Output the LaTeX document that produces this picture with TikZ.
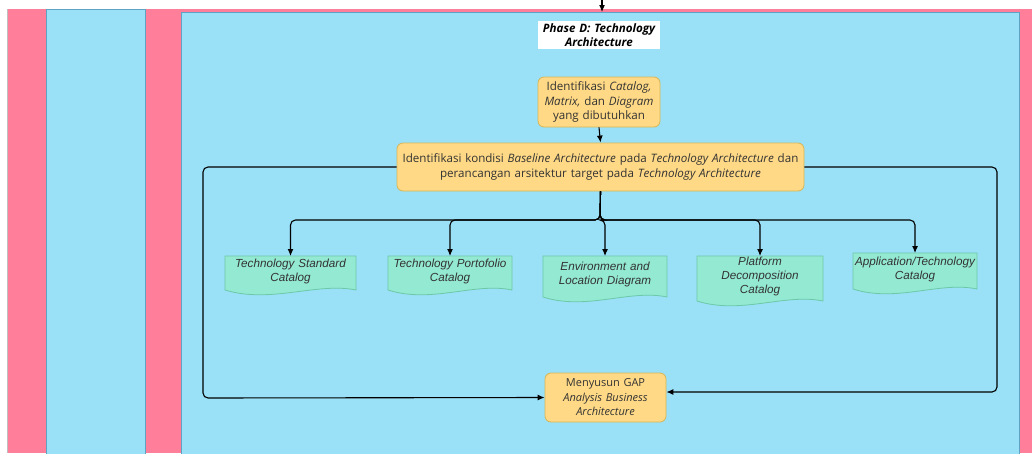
\documentclass[tikz,border=0pt]{standalone}
\usepackage{fontspec}
\setmainfont{Open Sans}
\newfontfamily\docfont{Liberation Sans}
\usetikzlibrary{arrows.meta,calc}

\definecolor{lanepink}{HTML}{FF7F9B}
\definecolor{laneblue}{HTML}{9AE0F7}
\definecolor{laneedge}{HTML}{5FA3C4}
\definecolor{boxfill}{HTML}{FFD986}
\definecolor{boxedge}{HTML}{D6B656}
\definecolor{docfill}{HTML}{93E9D1}
\definecolor{docedge}{HTML}{6CC9A8}
\definecolor{ink}{HTML}{333333}

\tikzset{
  stepbox/.style={draw=boxedge, fill=boxfill, rounded corners=6pt, line width=0.8pt,
    align=center, text=ink, inner sep=1pt,
    font=\fontsize{11.6}{14.5}\selectfont},
  titlebox/.style={fill=white, align=center, text=black, inner sep=0pt,
    font=\fontsize{11.6}{14}\selectfont\bfseries\itshape},
  docbody/.style={draw=docedge, fill=docfill, line width=0.8pt},
  doctext/.style={align=center, text=ink, inner sep=0pt,
    font=\docfont\itshape\fontsize{11.7}{14}\selectfont},
  conn/.style={draw=black, line width=1.1pt, rounded corners=5pt,
    -{Latex[length=7pt,width=6pt]}},
}

% document shape: name, x0, y0, x1, y-bottom of the sides, text
\newcommand\wavedoc[6]{%
  \path[docbody] (#2,#3) -- (#4,#3) -- (#4,#5)
    .. controls ({#2+0.7*(#4-#2)},{#5-8}) and ({#2+0.35*(#4-#2)},{#5+14}) .. (#2,#5) -- cycle;
  \node[doctext, text width={#4-#2}, minimum height={#5-#3-4}, anchor=north]
    (#1) at ({(#2+#4)/2},#3) {#6};
}

\begin{document}
\begin{tikzpicture}[x=1pt,y=-1pt]
\useasboundingbox (0,0) rectangle (1032,453);
\fill[white] (0,0) rectangle (1032,453);

% swimlanes
\fill[lanepink] (8,9) rectangle (1032,453);
\draw[black!25, line width=0.6pt] (7.5,9) -- (7.5,453);
\filldraw[fill=laneblue, draw=laneedge, line width=0.6pt] (46,9) rectangle (145,454);
\filldraw[fill=laneblue, draw=laneedge, line width=0.6pt] (181,12) rectangle (1019,454);

% incoming arrow from the phase above
\coordinate (intop) at (602,-2);
\coordinate (inend) at (602,12);
\draw[conn] (intop) -- (inend);

% phase title
\node[titlebox, text width=122pt, minimum height=28pt] (title) at (599,35)
  {Phase D: Technology\\Architecture};

% process steps
\node[stepbox, text width=120pt, minimum height=50pt] (b1) at (599,102)
  {Identifikasi \textit{Catalog,}\\\textit{Matrix,} dan \textit{Diagram}\\yang dibutuhkan};
\node[stepbox, text width=405pt, minimum height=48pt] (b2) at (600.5,167)
  {Identifikasi kondisi \textit{Baseline Architecture} pada \textit{Technology Architecture} dan\\
   perancangan arsitektur target pada \textit{Technology Architecture}};
\node[stepbox, text width=119pt, minimum height=49pt,
  font=\fontsize{11}{14.5}\selectfont] (b3) at (605.5,397.5)
  {Menyusun GAP\\\textit{Analysis Business}\\\textit{Architecture}};

% catalogs and diagrams
\wavedoc{d1}{225}{256}{356}{290}{Technology Standard\\Catalog}
\wavedoc{d2}{388}{256}{512}{290}{Technology Portofolio\\Catalog}
\wavedoc{d3}{543}{256}{667}{297}{Environment and\\Location Diagram}
\wavedoc{d4}{697}{256}{823}{301}{Platform\\Decomposition\\Catalog}
\wavedoc{d5}{853}{253}{977}{289}{Application/Technology\\Catalog}

% connectors
\draw[conn] (b1.south) -- (b2.north);
\coordinate (split) at (600,220);
\foreach \d in {d1,d2,d3,d4,d5}
  \draw[conn] (b2.south) -- (split) -| (\d.north);
\coordinate (lc) at (203,398);
\draw[conn] (b2.west) -| (lc) -- (b3.west);
\coordinate (rc) at (997,392);
\draw[conn] (b2.east) -| (rc) -- ($(b3.east)+(0,-5.5)$);
\end{tikzpicture}
\end{document}
